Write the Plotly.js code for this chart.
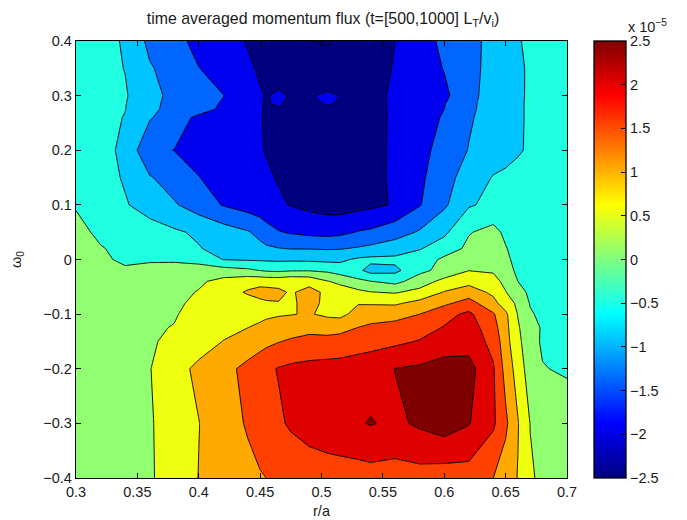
<!DOCTYPE html>
<html>
<head>
<meta charset="utf-8">
<script src="https://cdn.plot.ly/plotly-3.0.1.min.js"></script>
<style>html,body{margin:0;padding:0;background:#fff}#c{width:687px;height:520px}</style>
</head>
<body>
<div id="c"></div>
<script>
// radial positions r/a
var rGrid = [0.30,0.32,0.34,0.36,0.38,0.40,0.42,0.44,0.45,0.455,0.465,0.475,0.49,0.505,0.515,0.53,0.54,0.56,0.58,0.60,0.62,0.64,0.65,0.66,0.67,0.68,0.70];
// omega_0 positions
var omegaGrid = [0.4,0.35,0.3,0.285,0.275,0.26,0.2,0.15,0.1,0.05,0.02,0,-0.02,-0.04,-0.06,-0.08,-0.1,-0.125,-0.15,-0.2,-0.3,-0.4];
// momentum flux in units of 1e-5, one list per omega_0
var flux_p400 = [-.3,-.41,-.527,-1.126,-1.33,-1.66,-1.82,-2.03,-2.08,-2.12,-2.2,-2.3,-2.49,-2.53,-2.45,-2.35,-2.25,-2.001,-1.69,-1.4,-1.15,-.86,-.69,-.52,-.45,-.38,-.3];
var flux_p350 = [-.28,-.38,-.51,-.95,-1.22,-1.49,-1.72,-1.94,-2.05,-2.1,-2.18,-2.25,-2.35,-2.38,-2.35,-2.25,-2.18,-1.97,-1.73,-1.48,-1.15,-.84,-.69,-.55,-.46,-.38,-.27];
var flux_p300 = [-.25,-.33,-.46,-.8,-1.17,-1.29,-1.49,-1.81,-1.97,-2.02,-1.95,-2.02,-2.03,-1.93,-2.002,-2.12,-2.1,-1.945,-1.75,-1.6,-1.165,-.76,-.65,-.56,-.45,-.38,-.25];
var flux_p285 = [-.25,-.34,-.48,-.87,-1.16,-1.34,-1.54,-1.83,-1.98,-2.03,-1.95,-2.1,-2.12,-1.96,-2.05,-2.14,-2.105,-1.945,-1.74,-1.52,-1.12,-.76,-.66,-.55,-.45,-.38,-.25];
var flux_p275 = [-.25,-.34,-.49,-.9,-1.15,-1.36,-1.57,-1.85,-1.98,-2.03,-2.05,-2.1,-2.14,-2.1,-2.12,-2.16,-2.11,-1.945,-1.73,-1.5,-1.1,-.78,-.66,-.55,-.45,-.38,-.25];
var flux_p260 = [-.25,-.35,-.52,-.95,-1.32,-1.58,-1.74,-1.9,-1.98,-2.04,-2.12,-2.15,-2.2,-2.2,-2.2,-2.18,-2.12,-1.94,-1.71,-1.455,-1.06,-.78,-.65,-.55,-.45,-.38,-.25];
var flux_p200 = [-.2,-.38,-.58,-1.44,-1.505,-1.64,-1.77,-1.91,-1.97,-2.02,-2.1,-2.14,-2.2,-2.22,-2.22,-2.17,-2.1,-1.945,-1.65,-1.32,-.98,-.76,-.65,-.54,-.45,-.37,-.22];
var flux_p150 = [-.12,-.3,-.55,-.96,-1.23,-1.49,-1.655,-1.82,-1.9,-1.94,-2.03,-2.1,-2.18,-2.2,-2.2,-2.15,-2.12,-1.93,-1.6,-1.18,-.79,-.47,-.42,-.38,-.34,-.3,-.2];
var flux_p100 = [-.04,-.25,-.46,-.7,-.95,-1.24,-1.53,-1.71,-1.8,-1.85,-1.94,-2.02,-2.12,-2.2,-2.22,-2.15,-2.1,-1.96,-1.53,-1.08,-.55,-.38,-.33,-.3,-.28,-.26,-.2];
var flux_p050 = [.15,-.1,-.2,-.3,-.43,-.58,-.77,-.96,-1.14,-1.3,-1.47,-1.55,-1.63,-1.66,-1.62,-1.47,-1.42,-1.2,-.95,-.6,-.03,.15,-.1,-.2,-.2,-.2,-.2];
var flux_p020 = [.3,.03,-.12,-.22,-.33,-.47,-.67,-.8,-.87,-.92,-.98,-1.02,-1.02,-1.04,-1.03,-.95,-.88,-.75,-.53,-.25,.1,.25,.03,-.2,-.25,-.28,-.25];
var flux_000 = [.4,.1,-.1,-.12,-.14,-.22,-.51,-.55,-.56,-.57,-.58,-.58,-.59,-.62,-.6,-.42,-.38,-.38,-.28,.1,.25,.35,.1,-.15,-.25,-.28,-.28];
var flux_m020 = [.42,.3,.08,.3,.4,.3,.2,.1,-.01,-.06,-.1,-.04,-.03,-.1,-.25,-.4,-.68,-.62,-.12,.15,.49,.45,.2,-.1,-.2,-.25,-.3];
var flux_m040 = [.42,.35,.32,.3,.35,.42,.65,.82,.85,.82,.82,.9,.85,.52,.4,.12,.01,-.15,.25,.65,.85,.65,.38,0,-.15,-.2,-.3];
var flux_m060 = [.42,.38,.35,.33,.35,.53,.8,1.05,1.15,1.15,1.1,.95,1.15,.9,.72,.62,.52,.46,.65,1.03,1.25,.9,.52,.2,-.1,-.18,-.28];
var flux_m080 = [.42,.4,.38,.37,.42,.6,.72,.82,.9,.95,.98,.95,1.1,.92,.85,.97,.96,.93,1.15,1.4,1.7,1.15,.75,.4,-.03,-.12,-.25];
var flux_m100 = [.42,.42,.42,.43,.46,.68,.78,.86,.9,.93,.96,.98,1.04,.9,.85,1.2,1.26,1.35,1.5,1.85,2.1,1.55,1.1,.48,.05,-.1,-.25];
var flux_m125 = [.4,.42,.43,.44,.52,.76,.9,1.0,1.07,1.12,1.2,1.28,1.36,1.34,1.38,1.51,1.6,1.65,1.82,2.03,2.25,1.7,1.15,.55,.2,-.05,-.25];
var flux_m150 = [.4,.42,.43,.45,.6,.8,1.01,1.22,1.32,1.38,1.48,1.56,1.65,1.63,1.65,1.78,1.82,1.9,2.03,2.22,2.3,1.85,1.2,.6,.25,-.08,-.25];
var flux_m200 = [.4,.42,.43,.48,.83,1.1,1.35,1.63,1.8,1.9,2.03,2.1,2.15,2.2,2.22,2.25,2.3,2.51,2.58,2.72,2.68,2.05,1.33,.78,.25,.03,-.08];
var flux_m300 = [.4,.42,.43,.46,.7,.99,1.27,1.55,1.73,1.8,1.92,2.07,2.2,2.3,2.37,2.45,2.53,2.4,2.58,2.75,2.53,2.08,1.6,1.03,.49,.42,.37];
var flux_m400 = [.4,.42,.43,.45,.7,1.01,1.19,1.37,1.46,1.5,1.57,1.62,1.73,1.75,1.75,1.77,1.79,1.78,1.8,1.73,1.77,1.5,1.25,.98,.55,.42,.38];

var fluxRows = [flux_p400,flux_p350,flux_p300,flux_p285,flux_p275,flux_p260,flux_p200,flux_p150,flux_p100,flux_p050,flux_p020,flux_000,flux_m020,flux_m040,flux_m060,flux_m080,flux_m100,flux_m125,flux_m150,flux_m200,flux_m300,flux_m400];

var xTickVals = [0.3,0.35,0.4,0.45,0.5,0.55,0.6,0.65,0.7];
var xTickText = ['0.3','0.35','0.4','0.45','0.5','0.55','0.6','0.65','0.7'];
var yTickVals = [-0.4,-0.3,-0.2,-0.1,0,0.1,0.2,0.3,0.4];
var yTickText = ['\u22120.4','\u22120.3','\u22120.2','\u22120.1','0','0.1','0.2','0.3','0.4'];
var cbTickVals = [-2.5,-2,-1.5,-1,-0.5,0,0.5,1,1.5,2,2.5];
var cbTickText = ['\u22122.5','\u22122','\u22121.5','\u22121','\u22120.5','0','0.5','1','1.5','2','2.5'];
var bandColors = ['#000080','#000080','#0000f0','#0066ff','#00c4ff','#20ffdf','#90ff70','#eeff10','#ffaa00','#ff4000','#df0000','#800000'];

var font = 'Liberation Sans, Arial, sans-serif';
var ink = '#1a1a1a';

var bandScale = bandColors.map(function (c, i) { return [i / (bandColors.length - 1), c]; });
var jetScale = [[0,'#000080'],[0.125,'#0000ff'],[0.375,'#00ffff'],[0.625,'#ffff00'],[0.875,'#ff0000'],[1,'#800000']];

var barTrace = {
  type: 'heatmap', x: rGrid, y: omegaGrid, z: fluxRows,
  colorscale: jetScale, zmin: -2.5, zmax: 2.5, zsmooth: false, hoverinfo: 'skip',
  colorbar: {
    x: (594 - 76) / 491, xanchor: 'left', xpad: 0, y: 0.5, yanchor: 'middle', ypad: 0,
    len: 1, lenmode: 'fraction', thickness: 32, thicknessmode: 'pixels',
    outlinecolor: '#000', outlinewidth: 1.3, borderwidth: 0,
    ticks: 'inside', ticklen: 5, tickcolor: '#000', tickwidth: 1,
    tickmode: 'array', tickvals: cbTickVals, ticktext: cbTickText,
    tickfont: {family: font, size: 14.5, color: ink}
  }
};
var contourTrace = {
  type: 'contour', x: rGrid, y: omegaGrid, z: fluxRows,
  colorscale: bandScale, zmin: -2.75, zmax: 2.75, showscale: false,
  autocontour: false,
  contours: {start: -2.5, end: 2.5, size: 0.5, coloring: 'fill', showlines: true},
  line: {color: '#000', width: 0.9, smoothing: 0}
};
var layout = {
  width: 687, height: 520,
  margin: {l: 76, r: 120, t: 41, b: 42, pad: 0},
  paper_bgcolor: '#fff', plot_bgcolor: '#fff',
  showlegend: false,
  title: {
    text: 'time averaged momentum flux (t=[500,1000] L<sub>T</sub>/v<sub>i</sub>)',
    font: {family: font, size: 15.9, color: ink},
    x: 323 / 687, xanchor: 'center', xref: 'container',
    y: 1 - 18 / 520, yanchor: 'middle', yref: 'container'
  },
  xaxis: {
    range: [0.3, 0.7], tickmode: 'array', tickvals: xTickVals, ticktext: xTickText,
    ticks: 'inside', ticklen: 5, tickcolor: '#000', tickwidth: 1,
    showline: true, linecolor: '#000', linewidth: 1.3, mirror: 'ticks', showgrid: false, zeroline: false,
    tickfont: {family: font, size: 14.5, color: ink},
    title: {text: 'r/a', font: {family: font, size: 14.5, color: ink}, standoff: 7}
  },
  yaxis: {
    range: [-0.4, 0.4], tickmode: 'array', tickvals: yTickVals, ticktext: yTickText,
    ticks: 'inside', ticklen: 5, tickcolor: '#000', tickwidth: 1,
    showline: true, linecolor: '#000', linewidth: 1.3, mirror: 'ticks', showgrid: false, zeroline: false,
    tickfont: {family: font, size: 14.5, color: ink},
    title: {text: '\u03c9<sub>0</sub>', font: {family: font, size: 14.5, color: ink}, standoff: 18}
  },
  annotations: [{
    xref: 'paper', yref: 'paper', x: (626 - 76) / 491, y: 1 + 15 / 437,
    xanchor: 'left', yanchor: 'middle', showarrow: false,
    text: 'x 10<sup>\u22125</sup>', font: {family: font, size: 14.5, color: ink}
  }]
};
Plotly.newPlot('c', [barTrace, contourTrace], layout, {displayModeBar: false, responsive: false});
</script>
</body>
</html>
